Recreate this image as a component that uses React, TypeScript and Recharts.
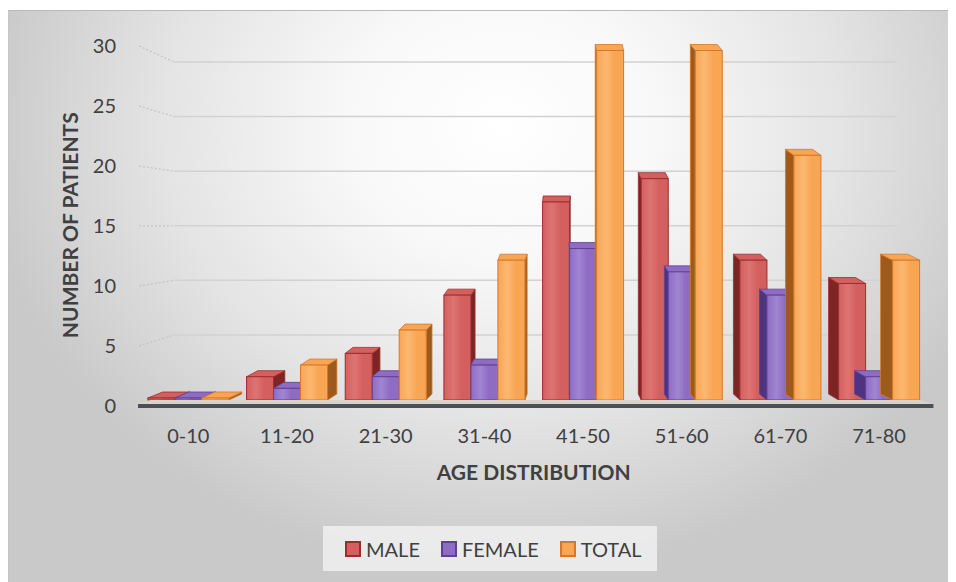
import React from "react";
import {
  BarChart,
  Bar,
  XAxis,
  YAxis,
  CartesianGrid,
  ReferenceLine,
  Label,
} from "recharts";

const CATEGORIES = ["0-10", "11-20", "21-30", "31-40", "41-50", "51-60", "61-70", "71-80"];
const MALE = [0, 2, 4, 9, 17, 19, 12, 10];
const FEMALE = [0, 1, 2, 3, 13, 11, 9, 2];
const TOTAL = [0, 3, 6, 12, 30, 30, 21, 12];
const Y_TICKS = [0, 5, 10, 15, 20, 25, 30];

const data = CATEGORIES.map((age, i) => ({
  age,
  male: MALE[i],
  female: FEMALE[i],
  total: TOTAL[i],
}));

const FONT = "Lato, 'Open Sans', sans-serif";
const TEXT = "#404040";

const SERIES = [
  { key: "male", name: "MALE", front: "#d3605f", light: "#de7472", side: "#7e2424", stroke: "#9a2e2e" },
  { key: "female", name: "FEMALE", front: "#8e6cc2", light: "#a085d2", side: "#4e3380", stroke: "#5f4194" },
  { key: "total", name: "TOTAL", front: "#f9a654", light: "#fbb872", side: "#9c5a1c", stroke: "#d6782a" },
];

// perspective: side faces lean toward a vanishing x near the middle of the plot
const VANISH_X = 564;
const DEPTH_K = 0.036;
const DEPTH_Y = -6;

function Bar3D(props: any) {
  const { x, y, width, height, s } = props;
  const h = Math.max(height, 2);
  const top = y + height - h;
  const cx = x + width / 2;
  const dx = (VANISH_X - cx) * DEPTH_K;
  const dy = DEPTH_Y;
  const sidePts =
    dx >= 0
      ? `${x + width},${top} ${x + width + dx},${top + dy} ${x + width + dx},${top + h + dy} ${x + width},${top + h}`
      : `${x},${top} ${x + dx},${top + dy} ${x + dx},${top + h + dy} ${x},${top + h}`;
  const topPts = `${x},${top} ${x + width},${top} ${x + width + dx},${top + dy} ${x + dx},${top + dy}`;
  return (
    <g>
      <polygon points={sidePts} fill={s.side} stroke={s.stroke} strokeWidth={0.8} />
      <polygon points={topPts} fill={s.front} stroke={s.stroke} strokeWidth={0.8} />
      <rect x={x} y={top} width={width} height={h} fill={`url(#grad-${s.key})`} stroke={s.stroke} strokeWidth={1} />
    </g>
  );
}

// back-wall gridline with a dotted run down the side wall
function GridLine(props: any) {
  const { x1, x2, y1 } = props;
  if (y1 > 380) return <g />;
  const back = 14 + 0.937 * y1;
  const wall = -5.67 + 1.03 * y1;
  return (
    <g>
      <line x1={x1} y1={wall} x2={x1 + 35} y2={back} stroke="#c4c4c4" strokeWidth={1.2} strokeDasharray="2 2" />
      <line x1={x1 + 35} y1={back} x2={x2 - 32} y2={back} stroke="#d2d2d2" strokeWidth={1.5} />
    </g>
  );
}

function YTick(props: any) {
  const { y, payload } = props;
  return (
    <text x={107} y={-5.67 + 1.03 * y} dy="0.35em" textAnchor="end" fontSize={20} fontFamily={FONT} fill={TEXT}>
      {payload.value}
    </text>
  );
}

function XTick(props: any) {
  const { x, y, payload } = props;
  return (
    <text x={x} y={y + 36} dy="0.35em" textAnchor="middle" fontSize={20} fontFamily={FONT} fill={TEXT}>
      {payload.value}
    </text>
  );
}

function Floor(props: any) {
  const { x1, x2, y1 } = props;
  return (
    <g>
      <polygon
        points={`${x1 + 12},${y1} ${x2 - 8},${y1} ${x2 + 4},${y1 + 4} ${x1 - 1},${y1 + 4}`}
        fill="#d8d3cb"
      />
      <line x1={x1 - 1} y1={y1 + 6} x2={x2 + 5} y2={y1 + 6} stroke="#4b5056" strokeWidth={4} />
    </g>
  );
}

export default function App() {
  return (
    <div
      style={{
        position: "relative",
        width: 948,
        height: 572,
        marginTop: 2,
        borderTop: "1px solid #b9b9b9",
        borderLeft: "1px solid #c6c6c6",
        background:
          "radial-gradient(ellipse 55% 78% at 52% 20%, #ffffff 0%, #f8f8f8 30%, #e4e4e4 65%, #c9c9c9 100%)",
        fontFamily: FONT,
      }}
    >
      <BarChart
        width={948}
        height={572}
        data={data}
        margin={{ top: 39.5, right: 28.6, left: 40, bottom: 143 }}
        barCategoryGap="9%"
        barGap={0}
      >
        <defs>
          {SERIES.map((s) => (
            <linearGradient key={s.key} id={`grad-${s.key}`} x1="0" y1="0" x2="1" y2="0">
              <stop offset="0%" stopColor={s.front} />
              <stop offset="35%" stopColor={s.light} />
              <stop offset="65%" stopColor={s.front} />
              <stop offset="100%" stopColor={s.front} />
            </linearGradient>
          ))}
        </defs>
        <CartesianGrid vertical={false} horizontal={GridLine as any} />
        <XAxis
          dataKey="age"
          axisLine={false}
          tickLine={false}
          tickSize={0}
          tickMargin={0}
          height={40}
          tick={XTick}
        >
          <Label
            content={(p: any) => (
              <text
                x={p.viewBox.x + p.viewBox.width / 2}
                y={p.viewBox.y + 73}
                dy="0.35em"
                textAnchor="middle"
                fontSize={21}
                fontWeight={700}
                fontFamily={FONT}
                fill={TEXT}
              >
                AGE DISTRIBUTION
              </text>
            )}
          />
        </XAxis>
        <YAxis
          domain={[0, 30]}
          ticks={Y_TICKS}
          width={90}
          axisLine={false}
          tickLine={false}
          tickSize={0}
          tick={YTick}
        >
          <Label
            content={(p: any) => {
              const cx = p.viewBox.x + 22;
              const cy = p.viewBox.y + p.viewBox.height / 2;
              return (
                <text
                  x={cx}
                  y={cy}
                  dy="0.35em"
                  textAnchor="middle"
                  transform={`rotate(-90 ${cx} ${cy})`}
                  fontSize={21}
                  fontWeight={700}
                  fontFamily={FONT}
                  fill={TEXT}
                >
                  NUMBER OF PATIENTS
                </text>
              );
            }}
          />
        </YAxis>
        <ReferenceLine y={0} shape={Floor as any} />
        {SERIES.map((s) => (
          <Bar
            key={s.key}
            dataKey={s.key}
            name={s.name}
            fill={s.front}
            isAnimationActive={false}
            shape={(p: any) => <Bar3D {...p} s={s} />}
          />
        ))}
      </BarChart>

      <div
        style={{
          position: "absolute",
          left: 314,
          top: 515,
          width: 334,
          height: 45,
          background: "rgba(240,240,240,0.85)",
          display: "flex",
          alignItems: "center",
          paddingLeft: 22,
          boxSizing: "border-box",
        }}
      >
        {SERIES.map((s) => (
          <div key={s.key} style={{ display: "flex", alignItems: "center", marginRight: 21 }}>
            <span
              style={{
                display: "inline-block",
                width: 12,
                height: 12,
                background: s.front,
                border: `2px solid ${s.stroke}`,
                marginRight: 5,
              }}
            />
            <span style={{ fontSize: 20, color: TEXT, lineHeight: 1 }}>{s.name}</span>
          </div>
        ))}
      </div>
    </div>
  );
}
